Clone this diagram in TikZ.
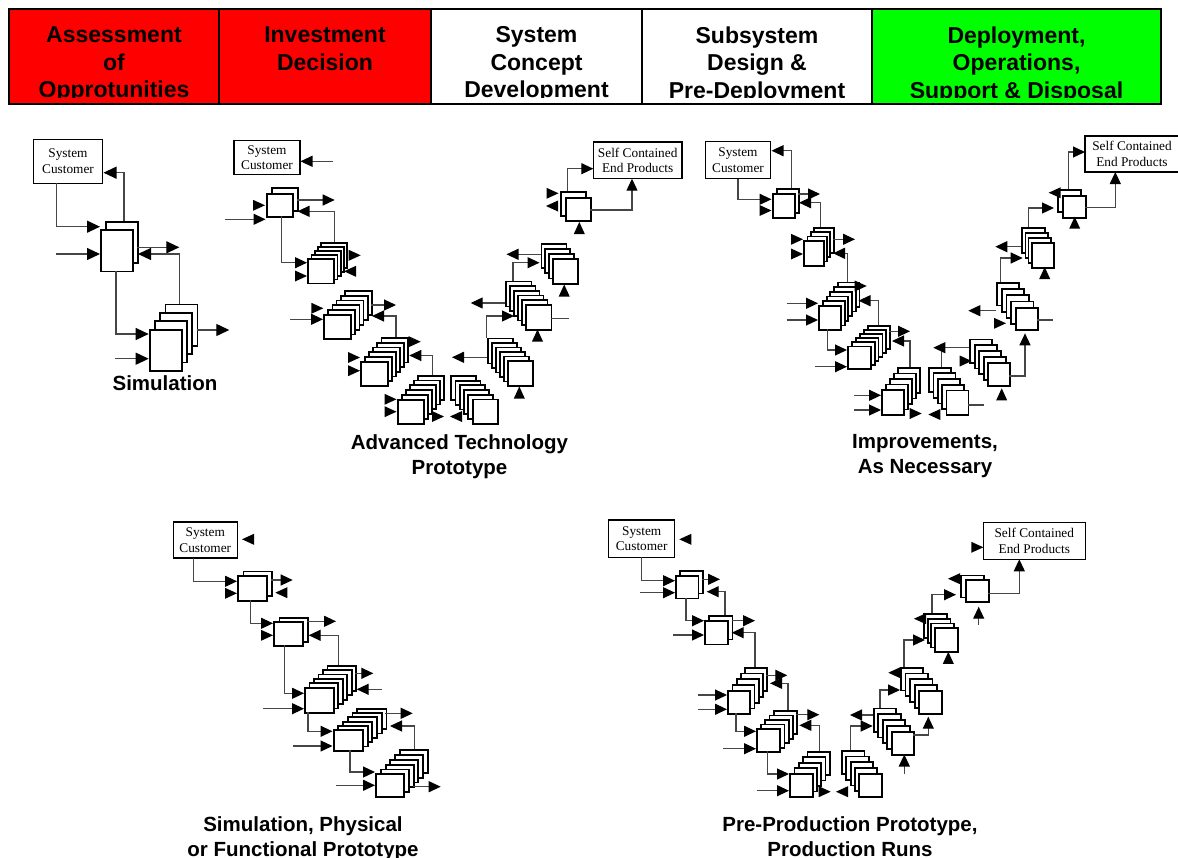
\documentclass[tikz,border=0pt]{standalone}
\usepackage{fontspec}
\setmainfont{Liberation Serif}
\newfontfamily\hv{Liberation Sans}
\usetikzlibrary{arrows.meta}
\definecolor{hdred}{RGB}{255,0,0}
\definecolor{hdgreen}{RGB}{0,255,0}
\definecolor{wirecol}{RGB}{70,70,70}
\tikzset{
  sheet/.style={draw=black,line width=1.8pt,fill=white,inner sep=0pt,anchor=north west},
  custbox/.style={draw=black,line width=1.5pt,fill=white,align=center,inner sep=0pt,
    font=\fontsize{13.3}{15.4}\selectfont},
  wire/.style={draw=wirecol,line width=1.2pt},
  arr/.style={wire,-{Triangle[length=12pt,width=11pt,color=black]}},
  capt/.style={font=\hv\bfseries\fontsize{20.5}{25}\selectfont,align=center,anchor=north,inner sep=0pt},
  head/.style={font=\hv\bfseries\fontsize{23}{27.5}\selectfont,align=center,anchor=north,inner sep=0pt},
}
% stack of sheets: name, x, y of front sheet (top left), width, height, sheets behind, dx, dy
\newcommand{\stk}[8]{%
  \foreach \k in {#6,...,1}
    \node[sheet,minimum width=#4pt,minimum height=#5pt] at ({#2+\k*(#7)},{#3+\k*(#8)}) {};
  \node[sheet,minimum width=#4pt,minimum height=#5pt] (#1) at (#2,#3) {};}
% loose arrow head: point x, y, direction
\newcommand{\looseTip}[3]{\fill[shift={(#1,#2)},rotate=#3] (0,0) -- (-12,5.5) -- (-12,-5.5) -- cycle;}

\begin{document}
\begin{tikzpicture}[x=1pt,y=-1pt]
  \useasboundingbox (0,0) rectangle (1178,857);
  % phase header
  \fill[hdred] (9,9) rectangle (431,104);
  \fill[hdgreen] (872,9) rectangle (1161,104);
  \draw[line width=1.5pt] (9,9) rectangle (1161,104);
  \foreach \xx in {219,431,642,872} \draw[line width=1.5pt] (\xx,9) -- (\xx,104);
  \begin{scope}
    \clip (9,9) rectangle (1161,97.5);
    \node[head] (h1) at (114,26.5) {Assessment\\of\\Opprotunities};
    \node[head] (h2) at (325,26.5) {Investment\\Decision};
    \node[head] (h3) at (536.5,26.5) {System\\Concept\\Development};
    \node[head] (h4) at (757,26.5) {Subsystem\\Design \&\\Pre-Deployment};
    \node[head] (h5) at (1016.5,26.5) {Deployment,\\Operations,\\Support \& Disposal};
  \end{scope}

  % simulation
  \begin{scope}[arr/.append style={-{Triangle[length=13pt,width=12pt,color=black]}}]
    \node[custbox,minimum width=69pt,minimum height=44pt] (sc) at (68,161.3) {System\\Customer};
    \stk{s1}{100}{229.3}{32}{41.3}{1}{5.3}{-8.6}
    \stk{s2}{148.7}{328.7}{32}{41.3}{3}{5.3}{-8.4}
    \draw[arr] (56.7,183.3) |- (100,226.7);
    \draw[arr] (56,254) -- (100,254);
    \draw[arr] (124,220.7) |- (103.5,172.7);
    \draw[arr] (137.3,247.3) -- (179.3,247.3);
    \draw[arr] (179.3,303.5) |- (138,254);
    \draw[arr] (116,270.7) |- (148.7,334);
    \draw[arr] (196.7,330) -- (229.3,330);
    \draw[arr] (114.7,358.7) -- (148.7,358.7);
    \node[capt] (sl) at (165,375.5) {Simulation};
  \end{scope}

  % advanced technology prototype
  \node[custbox,minimum width=66pt,minimum height=34pt] (ac) at (267,157.7) {System\\Customer};
  \node[custbox,minimum width=88.7pt,minimum height=36.7pt] (ae) at (637.7,160.3) {Self Contained\\End Products};
  \stk{a1}{266}{193.3}{26}{22.5}{1}{4.7}{-6}
  \stk{a2}{307.3}{258}{26}{24.5}{4}{3.2}{-3.9}
  \stk{a3}{323.3}{314}{27}{24.3}{5}{4.1}{-4.8}
  \stk{a4}{360}{360.7}{26.7}{24.3}{5}{4.1}{-4.7}
  \stk{a5}{396.7}{398.7}{26}{24}{5}{4.1}{-4.8}
  \stk{a6}{471.7}{398.5}{25}{24.2}{5}{-4.3}{-4.7}
  \stk{a7}{506.7}{360}{25}{25}{5}{-4}{-4.5}
  \stk{a8}{525}{304}{25.5}{25}{5}{-4}{-4.7}
  \stk{a9}{551.7}{258.3}{25}{24.4}{3}{-3.7}{-5.2}
  \stk{a10}{564.7}{196.7}{25.3}{23.3}{1}{-4.7}{-5.3}
  \draw[arr] (333.3,161.3) -- (300.5,161.3);
  \looseTip{265}{205.3}{0}
  \draw[arr] (225.3,219.3) -- (265.5,219.3);
  \draw[arr] (296.7,200) -- (334.7,200);
  \draw[arr] (334.7,242.4) |- (297.5,211.3);
  \draw[arr] (281.3,215.8) |- (307,262.7);
  \looseTip{307}{276}{0}
  \looseTip{360.7}{255.3}{0}
  \looseTip{344}{271.3}{180}
  \looseTip{323.3}{308.3}{0}
  \draw[arr] (290,319.3) -- (323,319.3);
  \draw[arr] (371,305) -- (396,305);
  \draw[arr] (396,337.2) |- (372,316);
  \looseTip{360}{357.5}{0}
  \looseTip{360}{370.7}{0}
  \looseTip{420.7}{341.7}{0}
  \draw[arr] (432.7,374.7) |- (409.3,355.5);
  \looseTip{396.5}{399.3}{0}
  \looseTip{396.5}{411.7}{0}
  \looseTip{444}{416.5}{0}
  \looseTip{450}{416.5}{180}
  \draw[arr] (486.7,357.3) -- (452,357.3);
  \draw[arr] (486.7,337.5) |- (514,316);
  \looseTip{519.3}{386.5}{90}
  \draw[arr] (505,303) -- (470.7,303);
  \draw[wire] (550.5,318.5) -- (568.5,318.5);
  \looseTip{537.5}{329.5}{90}
  \draw[arr] (513,280.7) |- (539.5,262.7);
  \draw[arr] (540.6,254.3) -- (506.5,254.3);
  \looseTip{564.2}{284.5}{90}
  \looseTip{558.5}{193.3}{0}
  \looseTip{546}{206}{180}
  \looseTip{579.3}{222}{90}
  \draw[arr] (567.3,191.4) |- (593.3,168.7);
  \draw[arr] (590,210) -| (632,178.7);
  \node[capt] (al) at (459.5,434.5) {Advanced Technology\\Prototype};

  % improvements
  \node[custbox,minimum width=65.4pt,minimum height=37.4pt] (ic) at (738,160) {System\\Customer};
  \node[custbox,minimum width=94pt,minimum height=36pt] (ie) at (1132,154) {Self Contained\\End Products};
  \stk{i1}{771.7}{193.3}{22.3}{24}{1}{4.3}{-5}
  \stk{i2}{803.3}{240}{19.5}{25}{3}{3.3}{-4.4}
  \stk{i3}{818.3}{305}{21.7}{24.3}{5}{3.7}{-4.7}
  \stk{i4}{847.3}{345.5}{22.5}{22.8}{5}{3.9}{-4.1}
  \stk{i5}{881.3}{389}{22}{25}{4}{4}{-5.5}
  \stk{i6}{945.5}{389.5}{22}{24.5}{4}{-4.3}{-5.7}
  \stk{i7}{987.3}{361.7}{22}{23.3}{4}{-4.5}{-5.8}
  \stk{i8}{1015}{306.7}{22.3}{22.6}{4}{-4.75}{-6.2}
  \stk{i9}{1030.7}{242}{22.6}{24.7}{3}{-3.1}{-4.9}
  \stk{i10}{1062}{195.3}{22.7}{21.4}{1}{-4.7}{-6}
  \draw[arr] (738,178.7) |- (771.5,199.3);
  \looseTip{771.5}{210.5}{0}
  \draw[arr] (791.3,188.3) |- (771.5,150.7);
  \draw[arr] (798.3,194) -- (820,194);
  \draw[arr] (820.7,226.8) |- (799,202.7);
  \looseTip{803}{239.3}{0}
  \looseTip{803}{254}{0}
  \draw[arr] (832.5,239.3) -- (855,239.3);
  \draw[arr] (847.3,281.5) |- (833,253.3);
  \draw[arr] (786.7,303.3) -- (818,303.3);
  \draw[arr] (786.7,320) -- (818,320);
  \looseTip{866.7}{286}{0}
  \draw[arr] (878.3,325) |- (858.5,300.7);
  \draw[arr] (827.3,329.3) |- (847,350);
  \draw[arr] (815,366.7) -- (847,366.7);
  \draw[arr] (889.3,331.3) -- (910,331.3);
  \draw[arr] (910,367) |- (892,341);
  \draw[arr] (854,395.3) -- (881,395.3);
  \draw[arr] (854,410) -- (881,410);
  \looseTip{921.7}{413.5}{0}
  \looseTip{928.3}{414.5}{180}
  \draw[wire] (967.5,405) -- (983.5,405);
  \draw[wire] (941.7,366.7) -- (941.7,347.7);
  \draw[arr] (969.3,347.7) -- (933.3,347.7);
  \looseTip{971.7}{361}{0}
  \looseTip{1001.7}{388.3}{90}
  \draw[arr] (1009.3,376) -| (1025,333.3);
  \draw[arr] (996.3,310.7) -- (968.3,310.7);
  \looseTip{1006}{323.3}{0}
  \draw[wire] (1037.3,320) -- (1053.3,320);
  \draw[arr] (1000.7,282) |- (1022.7,258);
  \draw[arr] (1021.4,246.7) -- (995.3,246.7);
  \looseTip{1044.7}{267}{90}
  \draw[arr] (1028.7,227.3) |- (1054,208);
  \looseTip{1048.7}{192.7}{180}
  \looseTip{1074.7}{216.7}{90}
  \draw[arr] (1068.7,189.3) |- (1085,152);
  \draw[arr] (1084.7,207.3) -| (1115.3,172);
  \node[capt] (il) at (925,434.5) {Improvements,\\As Necessary};

  % simulation, physical or functional prototype
  \node[custbox,minimum width=64pt,minimum height=36pt] (pc) at (205.3,540) {System\\Customer};
  \looseTip{242}{539.3}{180}
  \stk{p1}{237.3}{575.3}{28.7}{24.7}{1}{5.3}{-4.7}
  \stk{p2}{273.3}{621.3}{28.7}{24}{1}{5.3}{-4}
  \stk{p3}{304}{686.7}{28.7}{25.3}{5}{4.5}{-4.4}
  \stk{p4}{332.7}{729.3}{29.3}{20.5}{5}{4.7}{-4.3}
  \stk{p5}{375.3}{773.3}{28}{22.7}{5}{4.7}{-4.8}
  \draw[arr] (193.3,558) |- (237,581.3);
  \looseTip{237}{593.3}{0}
  \draw[arr] (271.3,580) -- (292.7,580);
  \looseTip{275.3}{592.7}{180}
  \draw[arr] (250.7,600) |- (273,623.3);
  \looseTip{273}{635.3}{0}
  \draw[arr] (307.3,621.3) -- (336,621.3);
  \draw[arr] (338.7,664.7) |- (308.7,635.3);
  \draw[arr] (284.7,645.3) |- (304,693.3);
  \draw[arr] (263.3,708.7) -- (304,708.7);
  \draw[arr] (355.2,673.3) -- (373.3,673.3);
  \draw[arr] (382,689.3) -- (356.7,689.3);
  \draw[arr] (308,712) |- (332.5,731.3);
  \draw[arr] (293.3,746) -- (332.5,746);
  \draw[arr] (385,713.3) -- (412.7,713.3);
  \draw[arr] (414.7,749.3) |- (390,726);
  \draw[arr] (350,749.8) |- (375,772);
  \draw[arr] (336,785.3) -- (375,785.3);
  \draw[arr] (413,786.7) -- (440.7,786.7);
  \node[capt] (pl) at (303,816) {Simulation, Physical\\or Functional Prototype};

  % pre-production prototype, production runs
  \node[custbox,minimum width=66pt,minimum height=37.3pt] (rc) at (641.7,538.7) {System\\Customer};
  \node[custbox,minimum width=102pt,minimum height=36.6pt] (re) at (1034.3,541) {Self Contained\\End Products};
  \looseTip{679.3}{539.3}{180}
  \looseTip{983.3}{547.3}{0}
  \stk{r1}{675}{575}{22.5}{22.5}{1}{4.3}{-5}
  \stk{r2}{704}{620}{23.3}{23.5}{1}{4.3}{-5}
  \stk{r3}{727.3}{690}{22}{23.3}{4}{4.2}{-5.8}
  \stk{r4}{756}{728}{23.3}{23.3}{4}{4.2}{-4.5}
  \stk{r5}{789.3}{772.7}{22.4}{23.3}{4}{4.3}{-5.5}
  \stk{r6}{858.3}{772.7}{22.4}{23.3}{4}{-4.3}{-5.7}
  \stk{r7}{890.7}{730.7}{22.6}{23.3}{4}{-4.5}{-5.8}
  \stk{r8}{918.3}{690}{22.4}{22.7}{4}{-4.6}{-5.8}
  \stk{r9}{934}{627.3}{22.7}{24}{3}{-3.6}{-4.7}
  \stk{r10}{964.7}{579.3}{23.3}{22}{1}{-4.7}{-4.7}
  \draw[arr] (641.3,557.3) |- (675,580.7);
  \draw[arr] (640,592.7) -- (675,592.7);
  \draw[arr] (701.8,579.3) -- (720,579.3);
  \draw[arr] (725,615) |- (706.7,591.7);
  \draw[arr] (686,597.5) |- (704,620.7);
  \draw[arr] (673.3,635) -- (704,635);
  \draw[arr] (731.6,620.7) -- (755,620.7);
  \draw[arr] (755,666.8) |- (731.7,632.7);
  \draw[arr] (698.3,695) -- (727,695);
  \draw[arr] (698.3,709.3) -- (727,709.3);
  \draw[arr] (766.1,675.3) -- (787.3,675.3);
  \draw[arr] (788,710) |- (770,683.3);
  \draw[arr] (736,713.3) |- (756,731.3);
  \draw[arr] (723.3,748.7) -- (756,748.7);
  \draw[arr] (796.1,714.7) -- (819.3,714.7);
  \draw[arr] (819.3,750.7) |- (799.3,725.3);
  \draw[arr] (767.3,751.3) |- (789,774);
  \draw[arr] (756.7,790.7) -- (789,790.7);
  \looseTip{830.7}{791.7}{0}
  \looseTip{836}{791.7}{180}
  \draw[arr] (850.7,749.9) |- (872.7,726);
  \draw[arr] (872.7,715) -- (850,715);
  \draw[arr] (880,707.5) |- (900,690);
  \draw[arr] (904.3,774) -- (904.3,754.5);
  \draw[arr] (913.3,735) -| (928.3,716.7);
  \looseTip{888.3}{672.7}{180}
  \draw[arr] (904,666.8) |- (925,640);
  \looseTip{948.3}{651.8}{90}
  \looseTip{914}{618.7}{180}
  \draw[arr] (932,613.2) |- (956,594.7);
  \looseTip{948}{578.7}{180}
  \draw[arr] (978.7,624.7) -- (978.7,606.7);
  \draw[arr] (988,593.3) -| (1019.3,559.3);
  \node[capt] (rl) at (850,816) {Pre-Production Prototype,\\Production Runs};
\end{tikzpicture}
\end{document}
